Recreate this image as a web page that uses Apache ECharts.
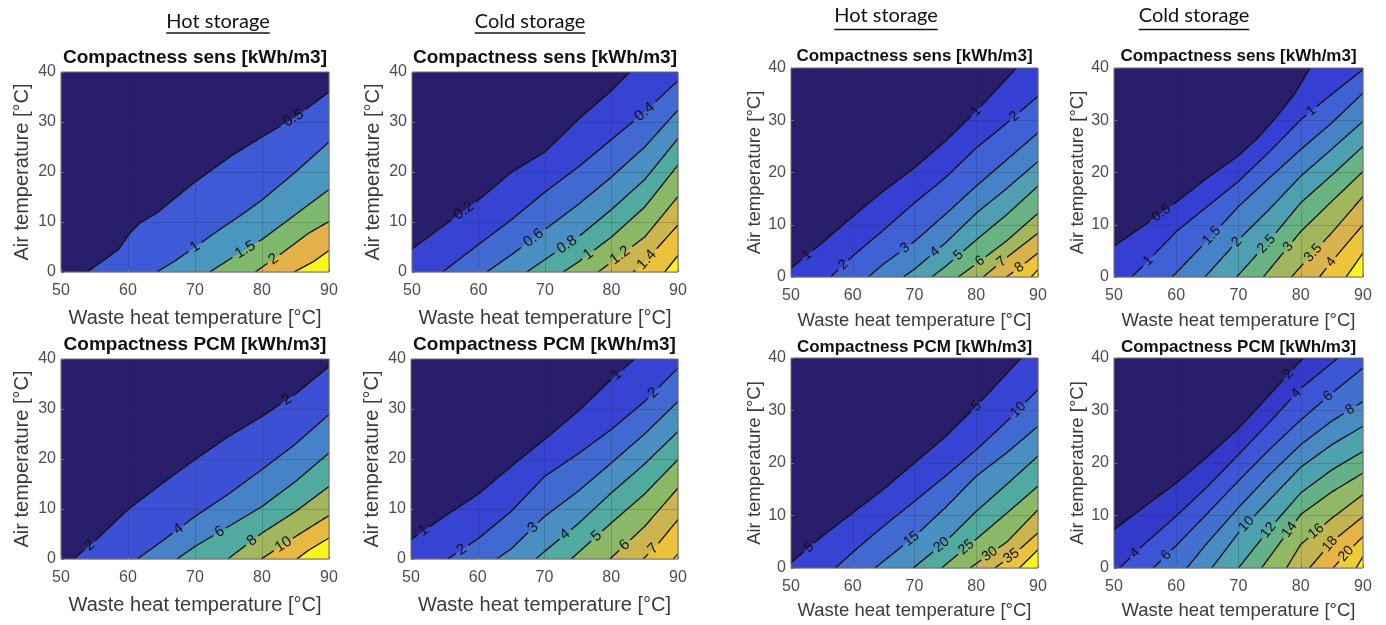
<!DOCTYPE html>
<html lang="en">
<head>
<meta charset="UTF-8">
<title>Compactness maps</title>
<script src="https://cdn.jsdelivr.net/npm/echarts@6/dist/echarts.min.js"></script>
<style>
  body { margin: 0; background: #fff; }
  #main { width: 1386px; height: 625px; }
</style>
</head>
<body>
<div id="main"></div>
<script>
// shared axes
var xTicks = [50, 60, 70, 80, 90];
var yTicks = [0, 10, 20, 30, 40];

// ---- left figure (A) ----
// hot storage, sensible
var hotSensLevelsA = [0.5, 1, 1.5, 2, 2.5];
var hotSensLinesA = [
  [[53.9,0],[55.8,1.8],[58.6,4.5],[60.3,7.8],[61.8,9.8],[64.3,11.8],[70,18],[75.7,23.5],[80,27],[85,31],[90,36]],
  [[64.3,0],[67,2.2],[70,5],[73.7,8.5],[77,11.5],[80,14.4],[85,20],[90,26]],
  [[72.2,0],[75.7,3],[80,6.5],[85,11.5],[90,16.5]],
  [[79,0],[83,3.8],[87,7.8],[90,10.1]],
  [[84.8,0],[87.7,2.1],[90,4.3]]
];
var hotSensLabelsA = [[84.7], [70], [77.5], [81.7], []];

// cold storage, sensible
var coldSensLevelsA = [0.2, 0.4, 0.6, 0.8, 1, 1.2, 1.4, 1.6];
var coldSensLinesA = [
  [[50,4.6],[55,9.5],[60,14.4],[65,20],[70,24],[75,30.5],[80,36.3],[82.75,40]],
  [[54.6,0],[60,5.5],[65,10.5],[70,16],[75,21],[80,26.5],[85,32],[90,38.3]],
  [[61.25,0],[65,3.5],[70,8.5],[75,13.5],[80,19],[85,25],[90,32.4]],
  [[67.25,0],[70,2.5],[75,7],[80,12.5],[85,18.5],[90,26.7]],
  [[72.75,0],[75,2],[80,7],[85,13],[90,21.4]],
  [[78,0],[80,2],[85,7],[90,15.1]],
  [[83.25,0],[85,2],[90,9.4]],
  [[88,0],[90,3.3]]
];
var coldSensLabelsA = [[57.8], [85], [68.3], [73.3], [76.5], [81.3], [85.3], []];

// hot storage, PCM
var hotPcmLevelsA = [2, 4, 6, 8, 10, 12];
var hotPcmLinesA = [
  [[51.9,0],[55,3.5],[60,9.9],[65,15],[70,19.9],[75,24.5],[80,28.5],[85,33],[90,38.5]],
  [[61.4,0],[65,3.5],[70,8.5],[75,13],[80,17.9],[85,23],[90,28.9]],
  [[67.3,0],[70,2.5],[75,6.5],[80,10.5],[85,15.5],[90,21.2]],
  [[74.9,0],[80,5.2],[85,9.5],[90,14.5]],
  [[79.9,0],[85,4.5],[90,8.7]],
  [[85.2,0],[87,1.8],[90,4.2]]
];
var hotPcmLabelsA = [[54.3, 83.7], [67.5], [73.7], [78.5], [83.2], []];

// cold storage, PCM
var coldPcmLevelsA = [1, 2, 3, 4, 5, 6, 7, 8];
var coldPcmLinesA = [
  [[50,3.9],[55,8.5],[60,12.9],[65,18.5],[70,23.9],[75,29.5],[80,35.9],[83.5,40]],
  [[55.5,0],[60,4],[65,9.5],[70,16.5],[75,21],[80,25.9],[85,31.5],[90,38.2]],
  [[62.8,0],[65,2],[70,8.5],[75,13.5],[80,19.2],[85,25],[90,31.5]],
  [[68.7,0],[70,1.5],[75,7],[80,13.2],[85,19],[90,25.5]],
  [[74,0],[80,7.2],[85,13],[90,19.9]],
  [[79.8,0],[85,6.5],[90,14.2]],
  [[84.8,0],[87,3],[90,7.9]],
  [[89.3,0],[90,1]]
];
var coldPcmLabelsA = [[51.9, 80.8], [57.6, 86.3], [68.3], [73.1], [77.8], [82], [86.3], []];

// ---- right figure (B) ----
var hotSensLevelsB = [1, 2, 3, 4, 5, 6, 7, 8, 9];
var hotSensLinesB = [
  [[50,1.7],[55,6.5],[60,11.6],[65,16.5],[70,20.9],[75,26],[80,31.7],[86.5,40]],
  [[56.4,0],[60,4],[65,9],[70,14.2],[75,19],[80,24.7],[85,29.5],[90,34.6]],
  [[62.5,0],[65,2.5],[70,6.8],[75,12],[80,17.4],[85,22.5],[90,27.6]],
  [[68.2,0],[70,1.5],[75,6.5],[80,12.2],[85,17],[90,22.1]],
  [[72.8,0],[75,2],[80,7.1],[85,12],[90,17.4]],
  [[77.1,0],[80,2.5],[85,7],[90,12.2]],
  [[81.1,0],[85,3.8],[90,8.4]],
  [[84.9,0],[87,1.8],[90,4.6]],
  [[88.9,0],[90,1.4]]
];
var hotSensLabelsB = [[52.6, 80], [58.5, 86.2], [68.5], [73.3], [77.1], [80.6], [84.1], [87], []];

var coldSensLevelsB = [0.5, 1, 1.5, 2, 2.5, 3, 3.5, 4, 4.5];
var coldSensLinesB = [
  [[50,5.9],[55,10],[60,14.3],[65,19],[70,23.2],[73,26.5],[76,30.5],[79,35],[81.5,40]],
  [[52.8,0],[55,2.5],[60,8.7],[65,13.5],[70,18.3],[75,24],[80,30.1],[85,35],[90,39.7]],
  [[59.3,0],[60,0.8],[65,7],[70,13.5],[75,19],[80,24.4],[85,29.5],[90,35.2]],
  [[64.6,0],[70,7.1],[75,13],[80,19.3],[85,24.5],[90,29.8]],
  [[69.7,0],[75,7],[80,14.2],[85,19.5],[90,25]],
  [[74,0],[80,8.7],[85,14.5],[90,20.2]],
  [[78.5,0],[80,2],[85,8.5],[90,15.4]],
  [[83,0],[85,3],[90,10]],
  [[87.3,0],[90,4.6]]
];
var coldSensLabelsB = [[57.6], [55.5, 81.7], [65.7], [69.7], [74.5], [78], [82], [84.9], []];

var hotPcmLevelsB = [5, 10, 15, 20, 25, 30, 35, 40];
var hotPcmLinesB = [
  [[50,1],[55,6],[60,10.5],[65,15],[70,20],[75,25],[80,30.8],[87.3,40]],
  [[57.2,0],[60,3],[65,8],[70,12.7],[75,17.5],[80,22.5],[85,28],[90,34]],
  [[63.6,0],[70,6],[75,11.5],[80,17.5],[85,22],[90,27]],
  [[69.8,0],[75,5],[80,10.8],[85,16],[90,21.3]],
  [[74.4,0],[80,5.5],[85,10.5],[90,15.6]],
  [[79,0],[85,5],[90,11.1]],
  [[83,0],[86,2.5],[90,6.7]],
  [[87,0],[90,3.5]]
];
var hotPcmLabelsB = [[52.9, 80], [86.8], [69.5], [74.4], [78.4], [82.2], [85.7], []];

var coldPcmLevelsB = [2, 4, 6, 8, 10, 12, 14, 16, 18, 20, 22];
var coldPcmLinesB = [
  [[50,7.3],[55,11.8],[60,16.2],[65,21.2],[70,26.6],[75,33],[80.4,40]],
  [[50.9,0],[55,4.7],[60,9.9],[65,15.5],[70,21.6],[75,27.8],[80,34.2],[86,40]],
  [[56.3,0],[60,4.3],[65,10.4],[70,16.6],[75,22.6],[80,28.2],[85,33.3],[90,38.1]],
  [[61.7,0],[65,4.8],[70,11.5],[75,17.8],[80,23.5],[85,28],[90,31.7]],
  [[65.7,0],[70,6.7],[75,13],[80,19.2],[85,23.5],[90,27]],
  [[70,0],[75,7.5],[80,14.3],[85,18.7],[90,22.2]],
  [[73.7,0],[80,10.2],[85,14.5],[90,18.1]],
  [[77.7,0],[80,4.5],[85,9.5],[90,14]],
  [[81.4,0],[85,5],[90,9.8]],
  [[85.2,0],[87.5,3],[90,6]],
  [[88.9,0],[90,2.2]]
];
var coldPcmLabelsB = [[78], [53.4, 79.3], [58.4, 84.4], [87.9], [71.3], [74.8], [78.2], [82.5], [84.7], [87.3], []];

// parula-like map, as it looks in the reference
var parulaStops = [
  [0.00, [40, 30, 108]],
  [0.10, [52, 60, 210]],
  [0.20, [62, 90, 215]],
  [0.30, [66, 120, 205]],
  [0.40, [75, 150, 190]],
  [0.50, [80, 170, 160]],
  [0.60, [125, 184, 108]],
  [0.70, [180, 183, 85]],
  [0.80, [228, 176, 72]],
  [0.90, [238, 200, 55]],
  [1.00, [248, 244, 28]]
];
function parula(t) {
  for (var i = 1; i < parulaStops.length; i++) {
    if (t <= parulaStops[i][0]) {
      var a = parulaStops[i - 1], b = parulaStops[i];
      var f = (t - a[0]) / (b[0] - a[0]);
      var c = a[1].map(function (v, k) { return Math.round(v + (b[1][k] - v) * f); });
      return 'rgb(' + c.join(',') + ')';
    }
  }
  return 'rgb(' + parulaStops[parulaStops.length - 1][1].join(',') + ')';
}

var sensTitle = 'Compactness sens [kWh/m3]';
var pcmTitle = 'Compactness PCM [kWh/m3]';

// box = [left, top, width, height], big = left figure fonts
var panels = [
  { levels: hotSensLevelsA,  lines: hotSensLinesA,  labels: hotSensLabelsA,  title: sensTitle, box: [61, 72, 268, 200],  titleY: 58,  big: true },
  { levels: coldSensLevelsA, lines: coldSensLinesA, labels: coldSensLabelsA, title: sensTitle, box: [412, 72, 266, 200], titleY: 58,  big: true },
  { levels: hotPcmLevelsA,   lines: hotPcmLinesA,   labels: hotPcmLabelsA,   title: pcmTitle,  box: [61, 359, 268, 200], titleY: 345, big: true },
  { levels: coldPcmLevelsA,  lines: coldPcmLinesA,  labels: coldPcmLabelsA,  title: pcmTitle,  box: [411, 359, 267, 200], titleY: 345, big: true },
  { levels: hotSensLevelsB,  lines: hotSensLinesB,  labels: hotSensLabelsB,  title: sensTitle, box: [791, 68, 247, 209],  titleY: 56,  big: false },
  { levels: coldSensLevelsB, lines: coldSensLinesB, labels: coldSensLabelsB, title: sensTitle, box: [1114, 68, 249, 209], titleY: 56,  big: false },
  { levels: hotPcmLevelsB,   lines: hotPcmLinesB,   labels: hotPcmLabelsB,   title: pcmTitle,  box: [791, 358, 247, 210], titleY: 347, big: false },
  { levels: coldPcmLevelsB,  lines: coldPcmLinesB,  labels: coldPcmLabelsB,  title: pcmTitle,  box: [1114, 358, 249, 210], titleY: 347, big: false }
];

var xMin = xTicks[0], xMax = xTicks[xTicks.length - 1];
var yMin = yTicks[0], yMax = yTicks[yTicks.length - 1];
var FONT = '"Liberation Sans", Arial, sans-serif';

// point on a contour line at a given x, plus its screen angle
function labelAt(line, lx, api) {
  var i = 0;
  while (i < line.length - 2 && line[i + 1][0] < lx) i++;
  var a = line[i], b = line[i + 1];
  var f = (lx - a[0]) / (b[0] - a[0] || 1);
  f = Math.max(0, Math.min(1, f));
  var p = api.coord([a[0] + (b[0] - a[0]) * f, a[1] + (b[1] - a[1]) * f]);
  var pa = api.coord(a), pb = api.coord(b);
  return { x: p[0], y: p[1], a: Math.atan2(-(pb[1] - pa[1]), pb[0] - pa[0]) };
}

// cut the line where labels sit
function splitRuns(pix, labs, gap) {
  var runs = [], cur = [];
  for (var i = 0; i < pix.length - 1; i++) {
    var a = pix[i], b = pix[i + 1];
    var n = Math.max(1, Math.ceil(Math.hypot(b[0] - a[0], b[1] - a[1])));
    for (var s = (i === 0 ? 0 : 1); s <= n; s++) {
      var pt = [a[0] + (b[0] - a[0]) * s / n, a[1] + (b[1] - a[1]) * s / n];
      var hide = labs.some(function (l) { return Math.hypot(pt[0] - l.x, pt[1] - l.y) < gap; });
      if (hide) {
        if (cur.length > 1) runs.push(cur);
        cur = [];
      } else {
        cur.push(pt);
      }
    }
  }
  if (cur.length > 1) runs.push(cur);
  return runs;
}

var grids = [], xAxes = [], yAxes = [], series = [], graphics = [];

panels.forEach(function (p, i) {
  var tickFs = 16;
  var nameFs = p.big ? 20 : 18.5;
  grids.push({
    left: p.box[0], top: p.box[1], width: p.box[2], height: p.box[3],
    show: true, borderColor: '#6e6e6e', borderWidth: 1, backgroundColor: 'transparent', z: 4
  });
  xAxes.push({
    gridIndex: i, type: 'value', min: xMin, max: xMax, interval: xTicks[1] - xTicks[0], z: 2,
    name: 'Waste heat temperature [°C]', nameLocation: 'middle',
    nameGap: p.big ? 36 : (i < 6 ? 34 : 33),
    nameTextStyle: { fontSize: nameFs, color: '#3a3a3a', fontFamily: FONT },
    axisLine: { show: false },
    axisTick: { show: true, inside: true, length: 3, lineStyle: { color: '#6e6e6e' } },
    axisLabel: { fontSize: tickFs, color: '#4d4d4d', margin: 11, fontFamily: FONT },
    splitLine: { show: true, lineStyle: { color: 'rgba(40,40,40,0.22)', width: 1 } }
  });
  yAxes.push({
    gridIndex: i, type: 'value', min: yMin, max: yMax, interval: yTicks[1] - yTicks[0], z: 2,
    name: 'Air temperature [°C]', nameLocation: 'middle', nameGap: p.big ? 29 : 27,
    nameTextStyle: { fontSize: nameFs, color: '#3a3a3a', fontFamily: FONT },
    axisLine: { show: false },
    axisTick: { show: true, inside: true, length: 3, lineStyle: { color: '#6e6e6e' } },
    axisLabel: { fontSize: tickFs, color: '#4d4d4d', margin: 5, fontFamily: FONT },
    splitLine: { show: true, lineStyle: { color: 'rgba(40,40,40,0.22)', width: 1 } }
  });

  var nb = p.levels.length + 1;
  var bands = [];
  for (var k = 0; k < nb; k++) bands.push([k, k]);

  // filled bands
  series.push({
    type: 'custom', xAxisIndex: i, yAxisIndex: i, z: 1, silent: true, clip: true,
    data: bands,
    renderItem: function (params, api) {
      var k = params.dataIndex;
      var color = parula(k / (nb - 1));
      if (k === 0) {
        var tl = api.coord([xMin, yMax]), br = api.coord([xMax, yMin]);
        return { type: 'rect', shape: { x: tl[0], y: tl[1], width: br[0] - tl[0], height: br[1] - tl[1] }, style: { fill: color } };
      }
      var line = p.lines[k - 1];
      var pts = line.slice();
      var s = line[0], e = line[line.length - 1];
      if (e[1] >= yMax) pts.push([xMax, yMax]);
      pts.push([xMax, yMin]);
      if (s[1] > yMin) pts.push([xMin, yMin]);
      return { type: 'polygon', shape: { points: pts.map(function (q) { return api.coord(q); }) }, style: { fill: color } };
    }
  });

  // contour lines and inline labels
  series.push({
    type: 'custom', xAxisIndex: i, yAxisIndex: i, z: 3, silent: true, clip: true,
    data: p.levels.map(function (l, j) { return [j, l]; }),
    renderItem: function (params, api) {
      var j = params.dataIndex;
      var txt = String(p.levels[j]);
      var fs = p.big ? 15 : 14;
      var pix = p.lines[j].map(function (q) { return api.coord(q); });
      var labs = p.labels[j].map(function (lx) { return labelAt(p.lines[j], lx, api); });
      var gap = txt.length * fs * 0.26 + 3;
      var kids = splitRuns(pix, labs, gap).map(function (r) {
        return { type: 'polyline', shape: { points: r }, style: { stroke: '#111', lineWidth: 1.3, fill: null } };
      });
      labs.forEach(function (l) {
        kids.push({
          type: 'text', x: l.x, y: l.y, rotation: l.a,
          style: { text: txt, fontSize: fs, fontFamily: FONT, fill: '#111', align: 'center', verticalAlign: 'middle' }
        });
      });
      return { type: 'group', children: kids };
    }
  });

  graphics.push({
    type: 'text', x: p.box[0] + p.box[2] / 2, y: p.titleY,
    style: {
      text: p.title, fontSize: p.big ? 19 : 17, fontWeight: 'bold', fontFamily: FONT,
      fill: '#111', align: 'center', verticalAlign: 'middle'
    }
  });
});

// column headers, underlined
var headers = [
  { text: 'Hot storage', x: 218, y: 22, line: 33 },
  { text: 'Cold storage', x: 530, y: 22, line: 33 },
  { text: 'Hot storage', x: 886, y: 15.5, line: 29.5 },
  { text: 'Cold storage', x: 1194, y: 15.5, line: 29.5 }
];
var headFont = '20px Lato, "Open Sans", sans-serif';
var ctx = document.createElement('canvas').getContext('2d');
ctx.font = headFont;
headers.forEach(function (h) {
  var w = ctx.measureText(h.text).width;
  graphics.push({
    type: 'text', x: h.x, y: h.y,
    style: { text: h.text, font: headFont, fill: '#111', align: 'center', verticalAlign: 'middle' }
  });
  graphics.push({
    type: 'line', shape: { x1: h.x - w / 2, y1: h.line, x2: h.x + w / 2, y2: h.line },
    style: { stroke: '#111', lineWidth: 1.4 }
  });
});

var chart = echarts.init(document.getElementById('main'));
chart.setOption({
  animation: false,
  backgroundColor: '#fff',
  grid: grids,
  xAxis: xAxes,
  yAxis: yAxes,
  series: series,
  graphic: graphics
});
</script>
</body>
</html>
